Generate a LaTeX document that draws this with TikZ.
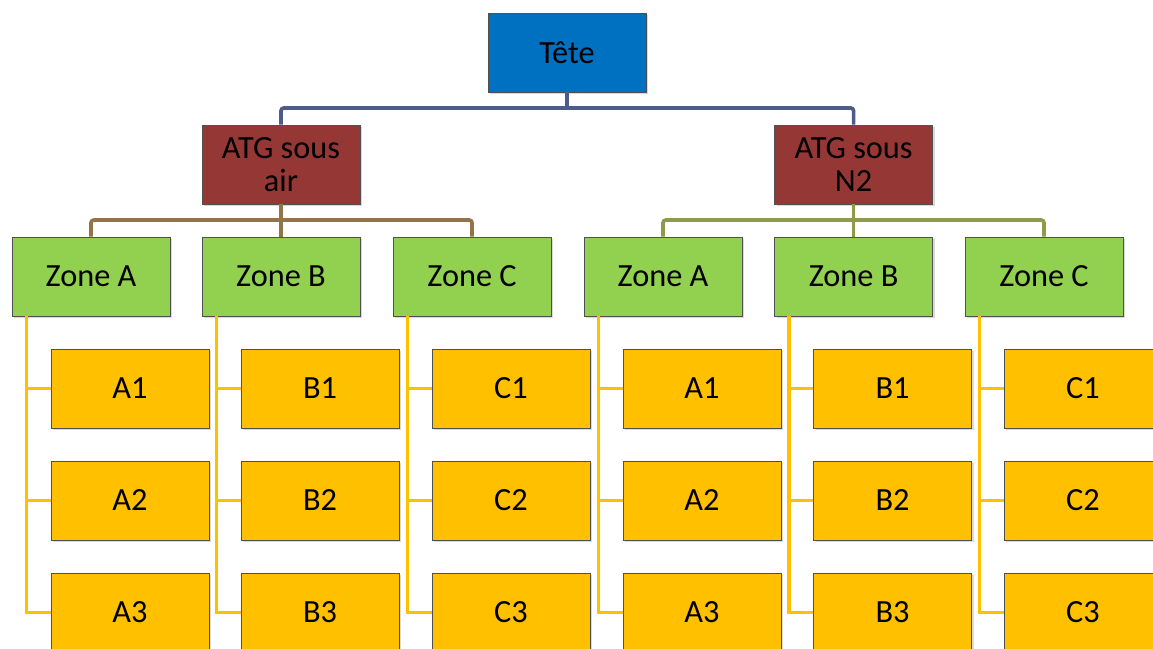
\documentclass[tikz,border=0pt]{standalone}
\usepackage{fontspec}
\setmainfont{Carlito}
\usetikzlibrary{positioning, shadows}
\definecolor{TeteBlue}{HTML}{0070C0}
\definecolor{AtgRed}{HTML}{953735}
\definecolor{ZoneGreen}{HTML}{92D050}
\definecolor{LeafGold}{HTML}{FFC000}
\definecolor{BoxEdge}{HTML}{505050}
\definecolor{TopBus}{HTML}{4E5C8C}
\definecolor{AirBus}{HTML}{927448}
\definecolor{NBus}{HTML}{8F9A4A}

\begin{document}
\begin{tikzpicture}[
    box/.style={draw=BoxEdge, line width=0.6pt, minimum width=3.95cm, minimum height=1.975cm,
      align=center, font=\fontsize{23}{24}\selectfont,
      drop shadow={shadow xshift=1.5pt, shadow yshift=-1.5pt, opacity=0.3}},
    tetebox/.style={box, fill=TeteBlue},
    atgbox/.style={box, fill=AtgRed},
    zonebox/.style={box, fill=ZoneGreen},
    leafbox/.style={box, fill=LeafGold},
    busline/.style={line width=2.6pt, rounded corners=2pt},
    leafline/.style={line width=2.6pt, draw=LeafGold}
  ]
    \path[use as bounding box, clip] (0,0) rectangle (28.825,-16.225);

    % Head and the two ATG branches
    \node[tetebox] (tete) at (14.175,-1.3125) {Tête};
    \node[atgbox] (atgair) at (7.025,-4.1125) {ATG sous\\air};
    \node[atgbox] (atgn2) at (21.34,-4.1125) {ATG sous\\N2};

    \coordinate (topbus) at (14.175,-2.7);
    \draw[busline, TopBus] (tete.south) -- (topbus);
    \draw[busline, TopBus] (atgair.north) |- (topbus) -| (atgn2.north);

    % Zones and their sub-boxes
    \foreach \zx/\zn/\zl in {2.275/A/zl1, 7.025/B/zl2, 11.8/C/zl3,
                             16.575/A/zr1, 21.34/B/zr2, 26.1/C/zr3} {
      \node[zonebox] (\zl) at (\zx,-6.9125) {Zone \zn};
      \foreach \k in {1,2,3} {
        \node[leafbox] (\zl-\k) at ({\zx+0.975},{-9.7125-2.8*(\k-1)}) {\zn\k};
        \draw[leafline] ([xshift=0.375cm]\zl.south west) |- (\zl-\k.west);
      }
    }

    % ATG to zone buses
    \coordinate (airbus) at (7.025,-5.5);
    \draw[busline, AirBus] (atgair.south) -- (airbus);
    \draw[busline, AirBus] (zl1.north) |- (airbus) -| (zl3.north);
    \draw[busline, AirBus] (zl2.north) -- (airbus);

    \coordinate (nbus) at (21.34,-5.5);
    \draw[busline, NBus] (atgn2.south) -- (nbus);
    \draw[busline, NBus] (zr1.north) |- (nbus) -| (zr3.north);
    \draw[busline, NBus] (zr2.north) -- (nbus);
\end{tikzpicture}
\end{document}
